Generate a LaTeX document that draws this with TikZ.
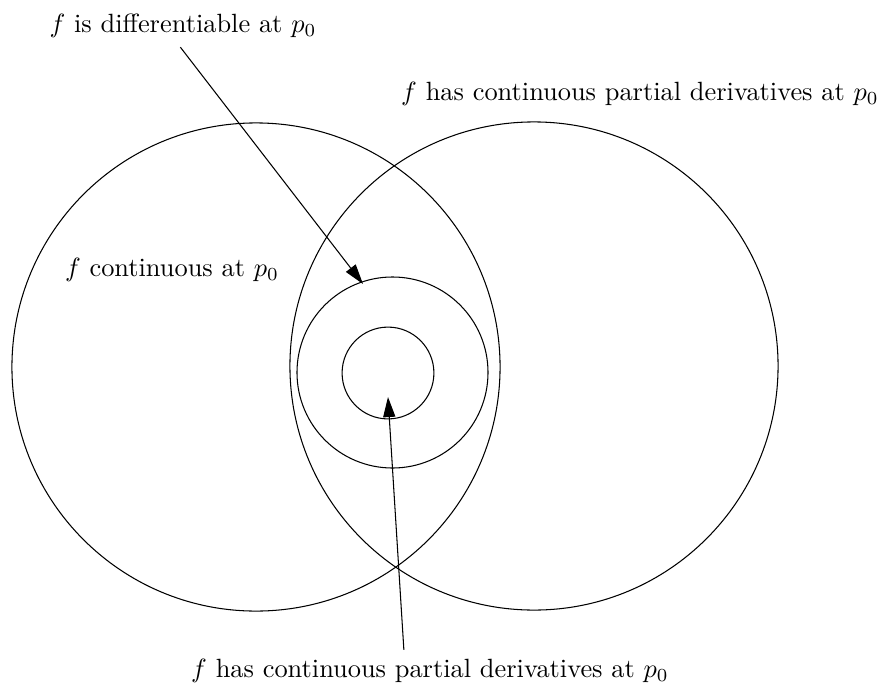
\documentclass[tikz,border=0pt]{standalone}
\usepackage{amsmath}
\usepackage{tikz}
\usetikzlibrary{calc,arrows.meta}

\begin{document}
\begin{tikzpicture}[x=0.379pt,y=-0.379pt]
    % Styles for circles and arrows
    \tikzset{
      set/.style={draw=black, line width=0.4pt},
      arrow/.style={-{Triangle[length=7.6pt,width=4.6pt]}, line width=0.4pt}
    }
    \useasboundingbox (0,0) rectangle (882,683);

    % Circles for the four properties
    \draw[set] (256,367) circle[radius=92.5pt];
    \draw[set] (534,366) circle[radius=92.5pt];
    \draw[set] (392.5,372.5) circle[radius=36.2pt];
    \draw[set] (388,373) circle[radius=17.4pt];

    % Labels with explicit coordinates
    \node (diff) at (183,26) {$f$ is differentiable at $p_0$};
    \node (cpd) at (640,94) {$f$ has continuous partial derivatives at $p_0$};
    \node (cont) at (172,270) {$f$ continuous at $p_0$};
    \node (cpdlow) at (430,671) {$f$ has continuous partial derivatives at $p_0$};

    % Arrow ends
    \coordinate (diffend) at (363,284);
    \coordinate (cpdend) at (388,397);

    % Arrows
    \draw[arrow] ([xshift=-1pt]diff.south) -- (diffend);
    \draw[arrow] ([xshift=-9.9pt]cpdlow.north) -- (cpdend);

\end{tikzpicture}
\end{document}
